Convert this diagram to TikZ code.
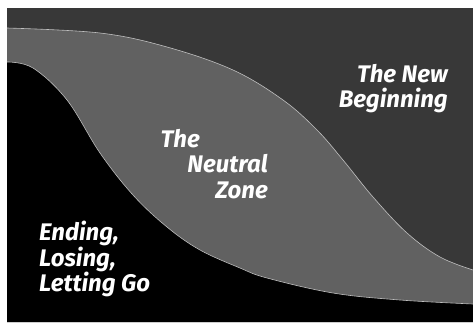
\documentclass[tikz,border=0pt]{standalone}
\usepackage{fontspec}
\setmainfont{Fira Sans}

\begin{document}
\begin{tikzpicture}[
		x=1pt, y=-1pt,
		phase/.style={font=\fontsize{24}{25.5}\selectfont\bfseries\itshape, text=white, inner sep=0pt},
		edge/.style={draw=white!75!black, line width=0.6pt}
		]
		\useasboundingbox (0,0) rectangle (473,322);
		
		% --- Background (the new beginning) ---
		\fill[black!78] (7,8) rectangle (473,322);
		
		% --- Neutral zone, below the upper curve ---
		\fill[black!62] plot[smooth, tension=0.6] coordinates {(7,28) (100,33) (167,47) (233,70) (283,100) (317,130) (343,160) (373,197) (407,233) (440,257) (473,270)}
			-- (473,322) -- (7,322) -- cycle;
		\draw[edge] plot[smooth, tension=0.6] coordinates {(7,28) (100,33) (167,47) (233,70) (283,100) (317,130) (343,160) (373,197) (407,233) (440,257) (473,270)};
		
		% --- Ending, below the lower curve ---
		\fill[black] plot[smooth, tension=0.6] coordinates {(7,62) (33,68) (67,100) (100,153) (133,195) (167,227) (200,250) (240,268) (267,278) (333,293) (400,300) (473,304)}
			-- (473,322) -- (7,322) -- cycle;
		\draw[edge] plot[smooth, tension=0.6] coordinates {(7,62) (33,68) (67,100) (100,153) (133,195) (167,227) (200,250) (240,268) (267,278) (333,293) (400,300) (473,304)};
		
		% --- Labels ---
		\node[phase, align=right, anchor=north east] (newbeg) at (448,64) {The New\\Beginning};
		\node[phase, align=right, anchor=north east] (neutral) at (268,129) {The\hspace*{68pt}\\Neutral\\Zone};
		\node[phase, align=left, anchor=north west] (ending) at (39,221) {Ending,\\Losing,\\Letting Go};
		
	\end{tikzpicture}
\end{document}
